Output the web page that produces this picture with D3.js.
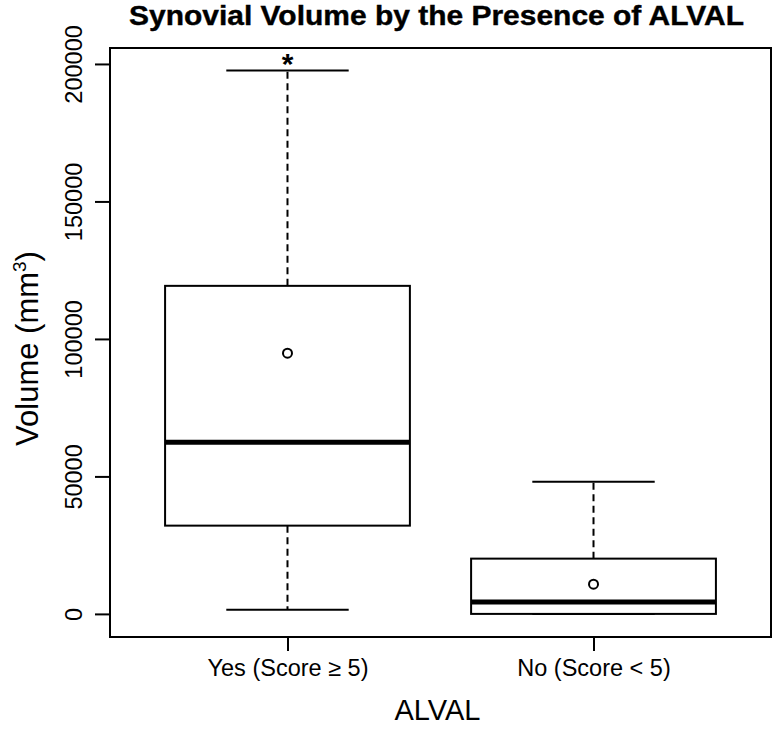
<!DOCTYPE html>
<html>
<head>
<meta charset="utf-8">
<script src="https://cdn.jsdelivr.net/npm/d3@7"></script>
<style>
  body { margin: 0; background: #fff; }
  svg text { font-family: "Liberation Sans", Arial, sans-serif; fill: #000; }
</style>
</head>
<body>
<div id="chart"></div>
<script>
// box summaries (mm^3)
const groups = ["Yes (Score \u2265 5)", "No (Score < 5)"];
const whiskerLow = [1500, 0];
const q1 = [32100, 0];
const median = [62400, 4300];
const q3 = [119300, 20100];
const whiskerHigh = [197600, 48100];
const means = [94800, 10800];
const yTicks = [0, 50000, 100000, 150000, 200000];

const width = 774;
const height = 732;
const margin = {top: 48, right: 3, bottom: 95, left: 110};

const svg = d3.select('#chart')
  .append('svg')
  .attr('width', width)
  .attr('height', height);

const x = d3.scaleLinear()
  .domain([0.42, 2.58])
  .range([margin.left, width - margin.right]);

const y = d3.scaleLinear()
  .domain([-8400, 205800])
  .range([height - margin.bottom, margin.top]);

const boxHalf = 0.4 * (x(2) - x(1));
const capHalf = boxHalf / 2;

const data = groups.map((g, i) => ({
  pos: i + 1,
  lo: whiskerLow[i], q1: q1[i], med: median[i], q3: q3[i], hi: whiskerHigh[i], mean: means[i]
}));

// title (wide, heavy look of the original)
svg.append('text')
  .attr('x', (x.range()[0] + x.range()[1]) / 2 - 4)
  .attr('y', 25)
  .attr('text-anchor', 'middle')
  .attr('textLength', 615)
  .attr('lengthAdjust', 'spacingAndGlyphs')
  .style('font-size', '27px')
  .style('font-weight', 'bold')
  .style('stroke', '#000').style('stroke-width', 0.4)
  .text('Synovial Volume by the Presence of ALVAL');

// y axis
const yAxis = svg.append('g')
  .attr('transform', `translate(${margin.left},0)`)
  .call(d3.axisLeft(y).tickValues(yTicks).tickSize(15).tickFormat(d3.format('d')));
yAxis.select('.domain').remove();
yAxis.selectAll('.tick line').attr('stroke', '#000').attr('stroke-width', 2);
yAxis.selectAll('.tick text')
  .attr('x', 0).attr('dy', 0)
  .attr('text-anchor', 'middle')
  .attr('transform', 'translate(-28,0) rotate(-90)')
  .style('font-size', '23.5px');

// x axis
const xAxis = svg.append('g')
  .attr('transform', `translate(0,${height - margin.bottom})`)
  .call(d3.axisBottom(x).tickValues([1, 2]).tickSize(14).tickFormat(d => groups[d - 1]));
xAxis.select('.domain').remove();
xAxis.selectAll('.tick line').attr('stroke', '#000').attr('stroke-width', 2);
xAxis.selectAll('.tick text')
  .attr('y', 39).attr('dy', 0)
  .style('font-size', '23.5px');

// axis titles
const yLab = svg.append('text')
  .attr('text-anchor', 'middle')
  .attr('transform', `translate(38,${(y.range()[0] + y.range()[1]) / 2 + 6}) rotate(-90)`)
  .style('font-size', '31px');
yLab.append('tspan').text('Volume (mm');
yLab.append('tspan').attr('dy', -12).style('font-size', '19px').text('3');
yLab.append('tspan').attr('dy', 12).text(')');

svg.append('text')
  .attr('x', (x.range()[0] + x.range()[1]) / 2 - 3)
  .attr('y', 720)
  .attr('text-anchor', 'middle')
  .style('font-size', '29px')
  .text('ALVAL');

// boxes
const box = svg.append('g')
  .selectAll('g')
  .data(data)
  .join('g');

box.append('line')
  .attr('x1', d => x(d.pos)).attr('x2', d => x(d.pos))
  .attr('y1', d => y(d.q3)).attr('y2', d => y(d.hi))
  .attr('stroke', '#000').attr('stroke-width', 2).attr('stroke-dasharray', '7,4.5');
box.append('line')
  .attr('x1', d => x(d.pos)).attr('x2', d => x(d.pos))
  .attr('y1', d => y(d.q1)).attr('y2', d => y(d.lo))
  .attr('stroke', '#000').attr('stroke-width', 2).attr('stroke-dasharray', '7,4.5');

box.append('line')
  .attr('x1', d => x(d.pos) - capHalf).attr('x2', d => x(d.pos) + capHalf)
  .attr('y1', d => y(d.hi)).attr('y2', d => y(d.hi))
  .attr('stroke', '#000').attr('stroke-width', 2);
box.append('line')
  .attr('x1', d => x(d.pos) - capHalf).attr('x2', d => x(d.pos) + capHalf)
  .attr('y1', d => y(d.lo)).attr('y2', d => y(d.lo))
  .attr('stroke', '#000').attr('stroke-width', 2);

box.append('rect')
  .attr('x', d => x(d.pos) - boxHalf)
  .attr('y', d => y(d.q3))
  .attr('width', boxHalf * 2)
  .attr('height', d => y(d.q1) - y(d.q3))
  .attr('fill', '#fff').attr('stroke', '#000').attr('stroke-width', 2);

box.append('line')
  .attr('x1', d => x(d.pos) - boxHalf).attr('x2', d => x(d.pos) + boxHalf)
  .attr('y1', d => y(d.med)).attr('y2', d => y(d.med))
  .attr('stroke', '#000').attr('stroke-width', 5);

box.append('circle')
  .attr('cx', d => x(d.pos))
  .attr('cy', d => y(d.mean))
  .attr('r', 4.5)
  .attr('fill', 'none').attr('stroke', '#000').attr('stroke-width', 2);

// significance star over the first group
svg.append('text')
  .attr('x', x(1))
  .attr('y', y(whiskerHigh[0]) + 3)
  .attr('text-anchor', 'middle')
  .style('font-size', '30px')
  .style('font-weight', 'bold')
  .text('*');

// plot frame
svg.append('rect')
  .attr('x', margin.left)
  .attr('y', margin.top)
  .attr('width', width - margin.left - margin.right)
  .attr('height', height - margin.top - margin.bottom)
  .attr('fill', 'none').attr('stroke', '#000').attr('stroke-width', 2);
</script>
</body>
</html>
